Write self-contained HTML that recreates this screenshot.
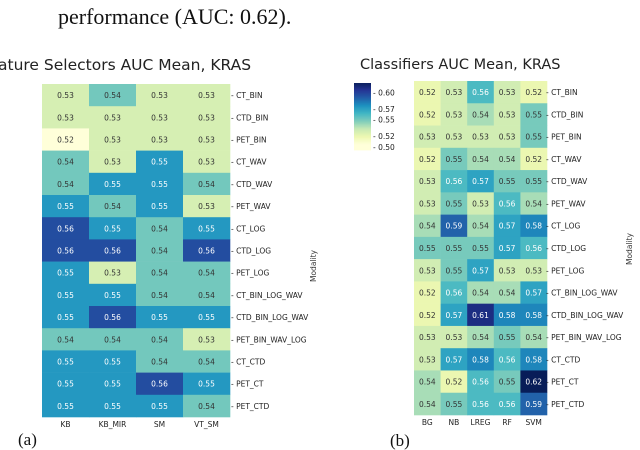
<!DOCTYPE html>
<html><head><meta charset="utf-8">
<style>
body{margin:0;background:#fff;width:640px;height:450px;overflow:hidden;position:relative;font-family:"DejaVu Sans","Liberation Sans",sans-serif;}
svg{position:absolute;left:0;top:0}
</style></head>
<body>
<svg id="s" width="640" height="450">
<text x="58" y="24" font-family="Liberation Serif,serif" font-size="22" fill="#111">performance (AUC: 0.62).</text>
<text x="-2" y="70" font-size="15.5" fill="#222">ature Selectors AUC Mean, KRAS</text>
<text x="360" y="69" font-size="14.5" fill="#222">Classifiers AUC Mean, KRAS</text>
<text x="18" y="445" font-family="Liberation Serif,serif" font-size="17" fill="#111">(a)</text>
<text x="390" y="446" font-family="Liberation Serif,serif" font-size="17" fill="#111">(b)</text>
<text transform="translate(316,282) rotate(-90)" font-size="7.5" fill="#333">Modality</text>
<text transform="translate(632,265) rotate(-90)" font-size="7.5" fill="#333">Modality</text>
<g id="cb"></g>
<g id="left"></g>
<g id="right"></g>
</svg>
<script>
const rows=["CT_BIN","CTD_BIN","PET_BIN","CT_WAV","CTD_WAV","PET_WAV","CT_LOG","CTD_LOG","PET_LOG","CT_BIN_LOG_WAV","CTD_BIN_LOG_WAV","PET_BIN_WAV_LOG","CT_CTD","PET_CT","PET_CTD"];
const leftCols=["KB","KB_MIR","SM","VT_SM"];
const leftVals=[[.53,.54,.53,.53],[.53,.53,.53,.53],[.52,.53,.53,.53],[.54,.53,.55,.53],[.54,.55,.55,.54],[.55,.54,.55,.53],[.56,.55,.54,.55],[.56,.56,.54,.56],[.55,.53,.54,.54],[.55,.55,.54,.54],[.55,.56,.55,.55],[.54,.54,.54,.53],[.55,.55,.54,.54],[.55,.55,.56,.55],[.55,.55,.55,.54]];
const rightCols=["BG","NB","LREG","RF","SVM"];
const rightVals=[[.52,.53,.56,.53,.52],[.52,.53,.54,.53,.55],[.53,.53,.53,.53,.55],[.52,.55,.54,.54,.52],[.53,.56,.57,.55,.55],[.53,.55,.53,.56,.54],[.54,.59,.54,.57,.58],[.55,.55,.55,.57,.56],[.53,.55,.57,.53,.53],[.52,.56,.54,.54,.57],[.52,.57,.61,.58,.58],[.53,.53,.54,.55,.54],[.53,.57,.58,.56,.58],[.54,.52,.56,.55,.62],[.54,.55,.56,.56,.59]];
const cbTicks=[0.50,0.52,0.55,0.57,0.60];

const NS="http://www.w3.org/2000/svg";
const stops=["#ffffd9","#edf8b1","#c7e9b4","#7fcdbb","#41b6c4","#1d91c0","#225ea8","#253494","#081d58"];
function h2r(h){return [1,3,5].map(i=>parseInt(h.substr(i,2),16));}
function cmap(t){t=Math.max(0,Math.min(1,t));const p=t*8,i=Math.min(7,Math.floor(p)),f=p-i;const a=h2r(stops[i]),b=h2r(stops[i+1]);return "rgb("+a.map((v,k)=>Math.round(v+(b[k]-v)*f)).join(",")+")";}
function mk(tag,attrs,parent){const e=document.createElementNS(NS,tag);for(const k in attrs)e.setAttribute(k,attrs[k]);parent.appendChild(e);return e;}

function heat(g,cols,vals,x0,y0,x1,y1,tf,thr,labelX){
  const cw=(x1-x0)/cols.length,rh=(y1-y0)/rows.length;
  vals.forEach((row,r)=>row.forEach((v,c)=>{
    const t=tf(v);
    const rc=mk("rect",{x:x0+c*cw,y:y0+r*rh,width:cw+0.3,height:rh+0.3,fill:cmap(t)},g);
    
    
    const tx=mk("text",{x:x0+c*cw+cw/2,y:y0+r*rh+rh/2+3,"text-anchor":"middle","font-size":"7.5",fill:t>thr?"#fff":"#333"},g);
    tx.textContent=v.toFixed(2);
    
    
  }));
  rows.forEach((n,r)=>{
    const tx=mk("text",{x:labelX,y:y0+r*rh+rh/2+3,"font-size":"7.5",fill:"#222"},g);
    tx.textContent="- "+n;
    
    
  });
  cols.forEach((n,c)=>{
    const tx=mk("text",{x:x0+c*cw+cw/2,y:y1+10,"text-anchor":"middle","font-size":"7.5",fill:"#222"},g);
    tx.textContent=n;
    
    
  });
}
heat(document.getElementById("left"),leftCols,leftVals,42,84,230,417,v=>(v-0.52)*20,0.5,231);
const rt=v=>(v-0.505)/0.115;
heat(document.getElementById("right"),rightCols,rightVals,414,81,547,415,rt,0.42,546);

// colorbar
const cb=document.getElementById("cb");
const cbTop=83,cbBot=150,vTop=0.618,vBot=0.494;
const cy=v=>cbBot-(v-vBot)/(vTop-vBot)*(cbBot-cbTop);
for(let i=0;i<67;i++){
  const v=vBot+(vTop-vBot)*(i+0.5)/67;
  mk("rect",{x:354,y:cbBot-(i+1)*(cbBot-cbTop)/67,width:17,height:(cbBot-cbTop)/67+0.4,fill:cmap(rt(v))},cb);
}
cbTicks.forEach(v=>{
  const tx=mk("text",{x:373,y:cy(v)+3,"font-size":"7.5",fill:"#222"},cb);
  tx.textContent="- "+v.toFixed(2);
  
  
});
</script>
</body></html>
